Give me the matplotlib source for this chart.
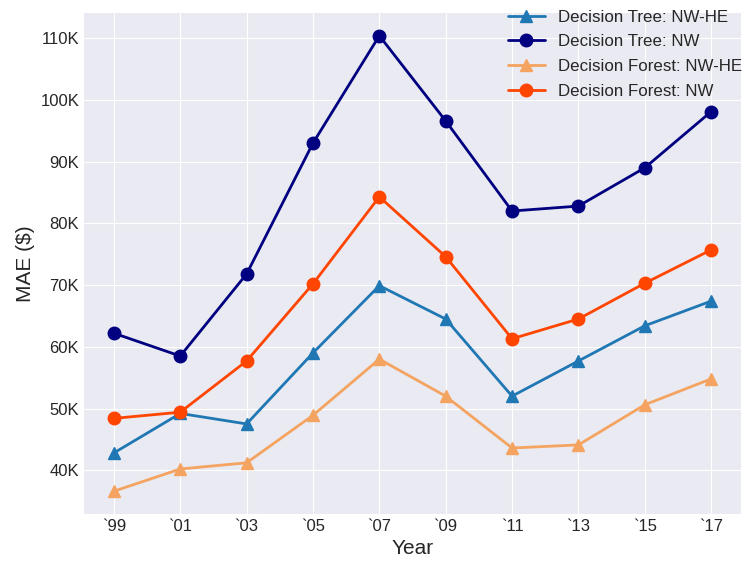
import matplotlib
matplotlib.use("Agg")
import matplotlib.pyplot as plt
from matplotlib.ticker import FuncFormatter

plt.style.use("seaborn-v0_8-darkgrid")
plt.rcParams["font.family"] = ["Liberation Sans", "DejaVu Sans"]

years = ["`99", "`01", "`03", "`05", "`07", "`09", "`11", "`13", "`15", "`17"]

# Mean absolute error, in thousands of dollars
tree_nw_he = [42.8, 49.2, 47.5, 59.0, 69.9, 64.5, 52.0, 57.7, 63.4, 67.4]
tree_nw = [62.2, 58.5, 71.8, 93.0, 110.4, 96.6, 82.0, 82.8, 89.0, 98.1]
forest_nw_he = [36.6, 40.2, 41.2, 48.9, 58.0, 52.0, 43.6, 44.1, 50.6, 54.8]
forest_nw = [48.4, 49.4, 57.7, 70.2, 84.3, 74.6, 61.3, 64.5, 70.3, 75.7]

fig = plt.figure(figsize=(7.45, 5.64), dpi=100)
ax = fig.add_axes([0.1128, 0.0887, 0.8818, 0.8883])

x = list(range(len(years)))
series = [
    ("Decision Tree: NW-HE", tree_nw_he, "#1f77b4", "^"),
    ("Decision Tree: NW", tree_nw, "navy", "o"),
    ("Decision Forest: NW-HE", forest_nw_he, "sandybrown", "^"),
    ("Decision Forest: NW", forest_nw, "orangered", "o"),
]
for label, vals, color, marker in series:
    ax.plot(x, [v * 1000 for v in vals], color=color, marker=marker,
            linewidth=2, markersize=9, label=label)

ax.set_xticks(x)
ax.set_xticklabels(years)
ax.yaxis.set_major_formatter(FuncFormatter(lambda v, p: f"{int(round(v / 1000))}K"))
ax.tick_params(labelsize=12)
ax.set_xlabel("Year", fontsize=15)
ax.set_ylabel("MAE ($)", fontsize=15)

ax.legend(loc="upper right", bbox_to_anchor=(1.008, 0.998),
          bbox_transform=fig.transFigure, fontsize=12.2, frameon=False,
          borderaxespad=0.1, handlelength=2.2, labelspacing=0.58)

fig.savefig("out.png", dpi=100)
